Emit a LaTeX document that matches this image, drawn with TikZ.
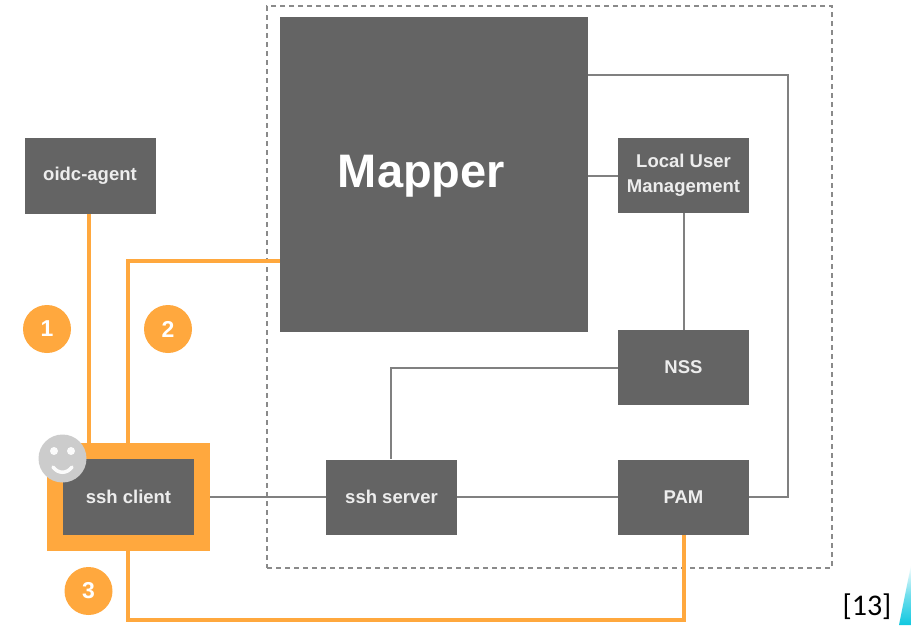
\documentclass[tikz,border=0pt]{standalone}
\usepackage{fontspec}
\setmainfont{Liberation Sans}
\newfontfamily\calib{Carlito}
\usetikzlibrary{calc}
\definecolor{boxgray}{HTML}{646464}
\definecolor{linegray}{HTML}{808080}
\definecolor{accent}{HTML}{FFA83E}
\definecolor{smile}{HTML}{CCCCCC}
\definecolor{dashgray}{HTML}{8A8A8A}
\definecolor{tealtip}{HTML}{10C8E0}
\tikzset{
  x=1pt,y=-1pt,
  graybox/.style={fill=boxgray,draw=none,text=white!93!black,inner sep=0pt,font=\fontsize{18.5}{25}\selectfont\bfseries,align=center},
  glink/.style={draw=linegray,line width=2pt},
  olink/.style={draw=accent,line width=4pt},
  badge/.style={circle,fill=accent,text=white,minimum size=48pt,inner sep=0pt,font=\fontsize{23}{25}\selectfont\bfseries},
}
\newcommand{\boxat}[6]{\node[graybox,minimum width=#4 pt,minimum height=#5 pt] (#1) at (#2,#3) {#6};}
\begin{document}
\begin{tikzpicture}
\useasboundingbox (0,0) rectangle (911,625);
\fill[white] (0,0) rectangle (911,625);
% dashed frame
\node[draw=dashgray,dash pattern=on 5pt off 4pt,line width=1.2pt,minimum width=565pt,minimum height=562pt,inner sep=0pt] (frame) at (549.5,287) {};
% tip at the corner
\shade[top color=white,bottom color=tealtip,middle color=tealtip!60!white] (899,625) -- (911,565) -- (911,625) -- cycle;
% boxes
\node[fill=accent,minimum width=163pt,minimum height=108pt,inner sep=0pt] (clientframe) at (128.5,497) {};
\boxat{mapper}{434}{174.5}{308}{315}{}
\node[text=white,font=\fontsize{47}{51}\selectfont\bfseries] (mapperlabel) at (421.5,176.5) {Mapper};
\boxat{local}{683.5}{175.5}{131}{75}{Local User\\Management}
\boxat{nss}{683.5}{367.5}{131}{75}{NSS}
\boxat{pam}{683.5}{497}{131}{75}{PAM}
\boxat{server}{391.5}{497}{131}{75}{ssh server}
\boxat{client}{128.5}{497}{131}{76}{ssh client}
\boxat{oidc}{90}{176}{131}{76}{oidc-agent}
% gray connectors
\coordinate (mr) at (mapper.east |- 0,75);
\coordinate (corner1) at (788,75);
\coordinate (corner2) at (788,497);
\draw[glink] (mr) -- (corner1) -- (corner2) -- (pam.east);
\draw[glink] (local.west) -- (local.west -| mapper.east);
\draw[glink] (local.south) -- (nss.north);
\coordinate (corner3) at (391,367.5);
\draw[glink] (nss.west) -- (corner3) -- (server.north -| corner3);
\draw[glink] (clientframe.east) -- (server.west);
\draw[glink] (server.east) -- (pam.west);
% orange connectors
\coordinate (ot) at (89,443);
\draw[olink] (oidc.south -| ot) -- (ot);
\coordinate (ml) at (280,261);
\coordinate (corner4) at (128,261);
\draw[olink] (ml) -- (corner4) -- (corner4 |- clientframe.north);
\coordinate (corner5) at (128,620);
\coordinate (corner6) at (684,620);
\draw[olink] (corner5 |- clientframe.south) -- (corner5) -- (corner6) -- (corner6 |- pam.south);
% badges
\node[badge] (b1) at (47,329) {1};
\node[badge] (b2) at (168,329) {2};
\node[badge] (b3) at (88.5,591) {3};
% smiley
\node[circle,fill=smile,minimum size=48pt,inner sep=0pt] (face) at (62.5,458.5) {};
\fill[white!93!smile] (54,451) circle (4pt) (71,451) circle (4pt);
\draw[white!93!smile,line width=3.5pt,line cap=round] (53,467) .. controls (58,474) and (67,474) .. (72,467);
% citation
\node[font=\calib\fontsize{30}{32}\selectfont,text=black,inner sep=0pt] (cite) at (867,607) {[13]};
\end{tikzpicture}
\end{document}
